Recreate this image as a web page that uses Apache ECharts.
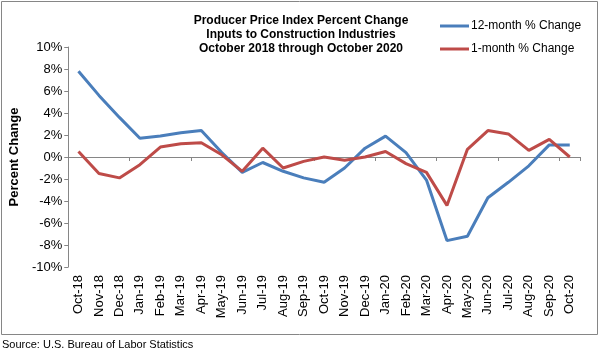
<!DOCTYPE html>
<html>
<head>
<meta charset="utf-8">
<script src="https://cdn.jsdelivr.net/npm/echarts@6/dist/echarts.min.js"></script>
<style>
    html, body { margin: 0; padding: 0; background: #fff; }
    #chart { width: 600px; height: 354px; }
</style>
</head>
<body>
<div id="chart"></div>
<script>
    // months, Oct-18 .. Oct-20
    var months = ['Oct-18', 'Nov-18', 'Dec-18', 'Jan-19', 'Feb-19', 'Mar-19', 'Apr-19', 'May-19', 'Jun-19',
        'Jul-19', 'Aug-19', 'Sep-19', 'Oct-19', 'Nov-19', 'Dec-19', 'Jan-20', 'Feb-20', 'Mar-20', 'Apr-20',
        'May-20', 'Jun-20', 'Jul-20', 'Aug-20', 'Sep-20', 'Oct-20'];
    var twelveMonth = [7.8, 5.6, 3.6, 1.7, 1.9, 2.2, 2.4, 0.4, -1.4, -0.5, -1.3, -1.9, -2.3, -1.0, 0.8,
        1.9, 0.4, -2.1, -7.6, -7.2, -3.7, -2.3, -0.8, 1.1, 1.1];
    var oneMonth = [0.5, -1.5, -1.9, -0.7, 0.9, 1.2, 1.3, 0.2, -1.3, 0.8, -1.0, -0.4, 0.0, -0.3, 0.0,
        0.5, -0.6, -1.4, -4.4, 0.7, 2.4, 2.1, 0.6, 1.6, 0.0];

    var font = 'Liberation Sans, Arial, sans-serif';
    var chart = echarts.init(document.getElementById('chart'));

    var option = {
        animation: false,
        textStyle: { fontFamily: font },
        title: {
            text: 'Producer Price Index Percent Change\nInputs to Construction Industries\nOctober 2018 through October 2020',
            left: 296,
            top: 9,
            textAlign: 'center',
            textStyle: { fontSize: 12, fontWeight: 'bold', color: '#000', lineHeight: 14, fontFamily: font }
        },
        legend: {
            orient: 'vertical',
            left: 440,
            top: 19,
            padding: 0,
            icon: 'rect',
            itemWidth: 29,
            itemHeight: 3,
            itemGap: 9,
            textStyle: { fontSize: 12, color: '#000', lineHeight: 14, padding: [0, 0, 0, -3], fontFamily: font }
        },
        grid: { left: 57, right: 20, top: 47, bottom: 87 },
        xAxis: [{
            type: 'category',
            data: months,
            position: 'bottom',
            axisLine: { show: false, onZero: false },
            axisTick: { show: false },
            axisLabel: { rotate: 90, fontSize: 13, color: '#000', margin: 8, interval: 0 }
        }, {
            type: 'category',
            data: months,
            position: 'bottom',
            axisLine: { onZero: true, lineStyle: { color: '#868686', width: 1 } },
            axisTick: { show: true, length: 4, lineStyle: { color: '#868686' } },
            axisLabel: { show: false }
        }],
        yAxis: {
            type: 'value',
            min: -10,
            max: 10,
            interval: 2,
            name: 'Percent Change',
            nameLocation: 'middle',
            nameGap: 37,
            nameTextStyle: { fontSize: 13, fontWeight: 'bold', color: '#000', fontFamily: font },
            axisLine: { show: true, lineStyle: { color: '#868686', width: 1 } },
            axisTick: { show: true, length: 4, lineStyle: { color: '#868686' } },
            axisLabel: { fontSize: 13, color: '#000', margin: 6, formatter: '{value}%' },
            splitLine: { show: false }
        },
        graphic: [{
            type: 'rect',
            shape: { x: 1.5, y: 1.5, width: 596, height: 333 },
            style: { fill: 'none', stroke: '#868686', lineWidth: 1 },
            silent: true
        }, {
            type: 'text',
            left: 2,
            top: 339,
            style: { text: 'Source: U.S. Bureau of Labor Statistics', fontSize: 11, fill: '#000', fontFamily: font }
        }],
        series: [{
            type: 'line',
            name: '12-month % Change',
            data: twelveMonth,
            symbol: 'none',
            lineStyle: { color: '#4A7EBB', width: 3 },
            itemStyle: { color: '#4A7EBB' }
        }, {
            type: 'line',
            name: '1-month % Change',
            data: oneMonth,
            symbol: 'none',
            lineStyle: { color: '#BE4B48', width: 3 },
            itemStyle: { color: '#BE4B48' }
        }]
    };
    chart.setOption(option);
</script>
</body>
</html>
